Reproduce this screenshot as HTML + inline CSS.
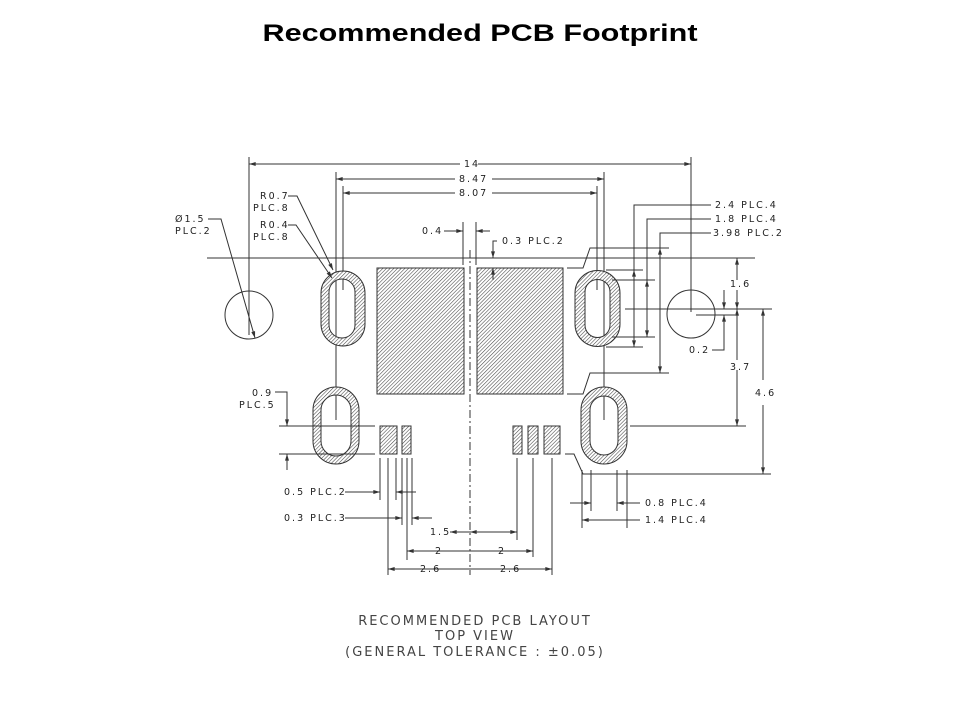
<!DOCTYPE html>
<html><head><meta charset="utf-8"><style>
html,body{margin:0;padding:0;background:#fff;width:960px;height:720px;overflow:hidden}
svg{display:block}
.t{font-family:"DejaVu Sans","Liberation Sans",sans-serif;font-size:9.5px;fill:#222;letter-spacing:2px}
</style></head><body>
<svg width="960" height="720" viewBox="0 0 960 720" xmlns="http://www.w3.org/2000/svg">
<defs>
<pattern id="h" patternUnits="userSpaceOnUse" width="2.6" height="2.6" patternTransform="rotate(45)">
<rect width="2.6" height="2.6" fill="#fff"/><line x1="0" y1="0" x2="0" y2="2.6" stroke="#444" stroke-width="1.1"/>
</pattern>
<marker id="a" viewBox="0 0 10 6" refX="10" refY="3" markerWidth="8" markerHeight="4" orient="auto-start-reverse" markerUnits="userSpaceOnUse"><path d="M0,0L10,3L0,6z" fill="#333"/></marker>
</defs>
<text x="480" y="41" text-anchor="middle" font-family="Liberation Sans,sans-serif" font-weight="bold" font-size="24" textLength="435" lengthAdjust="spacingAndGlyphs">Recommended PCB Footprint</text>

<g stroke="#333" stroke-width="1" fill="none">
<line x1="207" y1="258" x2="755" y2="258"/>
<line x1="470" y1="250" x2="470" y2="575" stroke-dasharray="8,3,2,3"/>
<line x1="249" y1="157" x2="249" y2="335"/>
<line x1="691" y1="157" x2="691" y2="312"/>
<line x1="336" y1="172" x2="336" y2="420"/>
<line x1="343" y1="186" x2="343" y2="290"/>
<line x1="604" y1="172" x2="604" y2="420"/>
<line x1="597" y1="186" x2="597" y2="290"/>
<line x1="249" y1="164" x2="460" y2="164" marker-start="url(#a)"/>
<line x1="478" y1="164" x2="691" y2="164" marker-end="url(#a)"/>
<line x1="336" y1="179" x2="455" y2="179" marker-start="url(#a)"/>
<line x1="492" y1="179" x2="604" y2="179" marker-end="url(#a)"/>
<line x1="343" y1="193" x2="455" y2="193" marker-start="url(#a)"/>
<line x1="492" y1="193" x2="597" y2="193" marker-end="url(#a)"/>
<circle cx="249" cy="315" r="24"/>
<circle cx="691" cy="314" r="24"/>
</g>
<g stroke="#333" stroke-width="1">
<path fill="url(#h)" fill-rule="evenodd" d="M321,293a22,22 0 0 1 44,0v31a22,22 0 0 1 -44,0z M329,292a13,13 0 0 1 26,0v33a13,13 0 0 1 -26,0z"/>
<path fill="url(#h)" fill-rule="evenodd" d="M313,410a23,23 0 0 1 46,0v31a23,23 0 0 1 -46,0z M321,410a15,15 0 0 1 30,0v31a15,15 0 0 1 -30,0z"/>
<path fill="url(#h)" fill-rule="evenodd" d="M575,293a22,22 0 0 1 45,0v31a22,22 0 0 1 -45,0z M585,292a12.5,12.5 0 0 1 25,0v33a12.5,12.5 0 0 1 -25,0z"/>
<path fill="url(#h)" fill-rule="evenodd" d="M581,410a23,23 0 0 1 46,0v31a23,23 0 0 1 -46,0z M590,410a14,14 0 0 1 28,0v31a14,14 0 0 1 -28,0z"/>
<rect x="377" y="268" width="87" height="126" fill="url(#h)"/>
<rect x="477" y="268" width="86" height="126" fill="url(#h)"/>
<rect x="380" y="426" width="17" height="28" fill="url(#h)"/>
<rect x="402" y="426" width="9" height="28" fill="url(#h)"/>
<rect x="513" y="426" width="9" height="28" fill="url(#h)"/>
<rect x="528" y="426" width="10" height="28" fill="url(#h)"/>
<rect x="544" y="426" width="16" height="28" fill="url(#h)"/>
</g>
<g stroke="#333" stroke-width="1" fill="none">
<polyline points="208,219 221,219 255,338" marker-end="url(#a)"/>
<polyline points="288,196 297,196 333,270" marker-end="url(#a)"/>
<polyline points="288,225 296,225 332,278" marker-end="url(#a)"/>
<line x1="279" y1="426" x2="375" y2="426"/>
<line x1="279" y1="454" x2="375" y2="454"/>
<polyline points="275,392 287,392 287,426" marker-end="url(#a)"/>
<line x1="287" y1="470" x2="287" y2="454" marker-end="url(#a)"/>
<line x1="463" y1="222" x2="463" y2="265"/>
<line x1="476" y1="222" x2="476" y2="265"/>
<line x1="444" y1="231" x2="463" y2="231" marker-end="url(#a)"/>
<line x1="490" y1="231" x2="476" y2="231" marker-end="url(#a)"/>
<polyline points="497,241 493,241 493,258" marker-end="url(#a)"/>
<line x1="493" y1="280" x2="493" y2="268" marker-end="url(#a)"/>
<polyline points="711,205 634,205 634,347"/>
<polyline points="711,219 647,219 647,337"/>
<polyline points="711,233 660,233 660,373"/>
<line x1="634" y1="290" x2="634" y2="270" marker-end="url(#a)"/><line x1="634" y1="330" x2="634" y2="347" marker-end="url(#a)"/>
<line x1="647" y1="300" x2="647" y2="280" marker-end="url(#a)"/><line x1="647" y1="320" x2="647" y2="337" marker-end="url(#a)"/>
<line x1="660" y1="270" x2="660" y2="248" marker-end="url(#a)"/><line x1="660" y1="350" x2="660" y2="373" marker-end="url(#a)"/>
<line x1="606" y1="270" x2="643" y2="270"/>
<line x1="606" y1="347" x2="643" y2="347"/>
<line x1="612" y1="280" x2="655" y2="280"/>
<line x1="612" y1="337" x2="655" y2="337"/>
<polyline points="669,248 590,248 583,268 567,268"/>
<polyline points="669,373 590,373 583,394 567,394"/>
<line x1="625" y1="309" x2="772" y2="309"/>
<line x1="696" y1="315" x2="735" y2="315"/>
<line x1="630" y1="426" x2="746" y2="426"/>
<polyline points="565,454 574,454 583,474 771,474"/>
<line x1="737" y1="280" x2="737" y2="258" marker-end="url(#a)"/>
<line x1="737" y1="290" x2="737" y2="309" marker-end="url(#a)"/>
<line x1="737" y1="330" x2="737" y2="309" marker-end="url(#a)"/>
<line x1="737" y1="370" x2="737" y2="426" marker-end="url(#a)"/>
<line x1="737" y1="330" x2="737" y2="360"/>
<line x1="763" y1="380" x2="763" y2="309" marker-end="url(#a)"/>
<line x1="763" y1="405" x2="763" y2="474" marker-end="url(#a)"/>
<line x1="724" y1="290" x2="724" y2="309" marker-end="url(#a)"/>
<polyline points="712,350 724,350 724,315" marker-end="url(#a)"/>
<line x1="380" y1="458" x2="380" y2="500"/>
<line x1="388" y1="458" x2="388" y2="575"/>
<line x1="396" y1="458" x2="396" y2="500"/>
<line x1="402" y1="458" x2="402" y2="525"/>
<line x1="407" y1="458" x2="407" y2="560"/>
<line x1="412" y1="458" x2="412" y2="525"/>
<line x1="517" y1="458" x2="517" y2="540"/>
<line x1="533" y1="458" x2="533" y2="557"/>
<line x1="552" y1="458" x2="552" y2="575"/>
<line x1="345" y1="492" x2="380" y2="492" marker-end="url(#a)"/>
<line x1="396" y1="492" x2="416" y2="492" marker-start="url(#a)"/>
<line x1="345" y1="518" x2="402" y2="518" marker-end="url(#a)"/>
<line x1="432" y1="518" x2="412" y2="518" marker-end="url(#a)"/>
<line x1="450" y1="532" x2="517" y2="532" marker-start="url(#a)" marker-end="url(#a)"/>
<line x1="470" y1="532" x2="478" y2="532" marker-start="url(#a)"/>
<line x1="407" y1="551" x2="533" y2="551" marker-start="url(#a)" marker-end="url(#a)"/>
<line x1="388" y1="569" x2="552" y2="569" marker-start="url(#a)" marker-end="url(#a)"/>
<line x1="582" y1="470" x2="582" y2="528"/>
<line x1="591" y1="470" x2="591" y2="511"/>
<line x1="617" y1="470" x2="617" y2="511"/>
<line x1="627" y1="470" x2="627" y2="528"/>
<line x1="570" y1="503" x2="591" y2="503" marker-end="url(#a)"/>
<line x1="640" y1="503" x2="617" y2="503" marker-end="url(#a)"/>
<line x1="582" y1="520" x2="640" y2="520" marker-start="url(#a)"/>
</g>
<g class="t">
<text x="175" y="222">Ø1.5</text><text x="175" y="234">PLC.2</text>
<text x="260" y="199">R0.7</text><text x="253" y="211">PLC.8</text>
<text x="260" y="228">R0.4</text><text x="253" y="240">PLC.8</text>
<text x="252" y="396">0.9</text><text x="239" y="408">PLC.5</text>
<text x="422" y="234">0.4</text>
<text x="502" y="244">0.3 PLC.2</text>
<text x="464" y="167">14</text>
<text x="459" y="182">8.47</text>
<text x="459" y="196">8.07</text>
<text x="715" y="208">2.4 PLC.4</text>
<text x="715" y="222">1.8 PLC.4</text>
<text x="713" y="236">3.98 PLC.2</text>
<text x="730" y="287">1.6</text>
<text x="689" y="353">0.2</text>
<text x="730" y="370">3.7</text>
<text x="755" y="396">4.6</text>
<text x="284" y="495">0.5 PLC.2</text>
<text x="284" y="521">0.3 PLC.3</text>
<text x="430" y="535">1.5</text>
<text x="435" y="554">2</text><text x="498" y="554">2</text>
<text x="420" y="572">2.6</text><text x="500" y="572">2.6</text>
<text x="645" y="506">0.8 PLC.4</text>
<text x="645" y="523">1.4 PLC.4</text>
</g>
<g font-family="DejaVu Sans,Liberation Sans,sans-serif" font-size="13" fill="#444" text-anchor="middle" letter-spacing="2">
<text x="475" y="625">RECOMMENDED PCB LAYOUT</text>
<text x="475" y="640">TOP VIEW</text>
<text x="475" y="656">(GENERAL TOLERANCE : ±0.05)</text>
</g>
</svg>
</body></html>
